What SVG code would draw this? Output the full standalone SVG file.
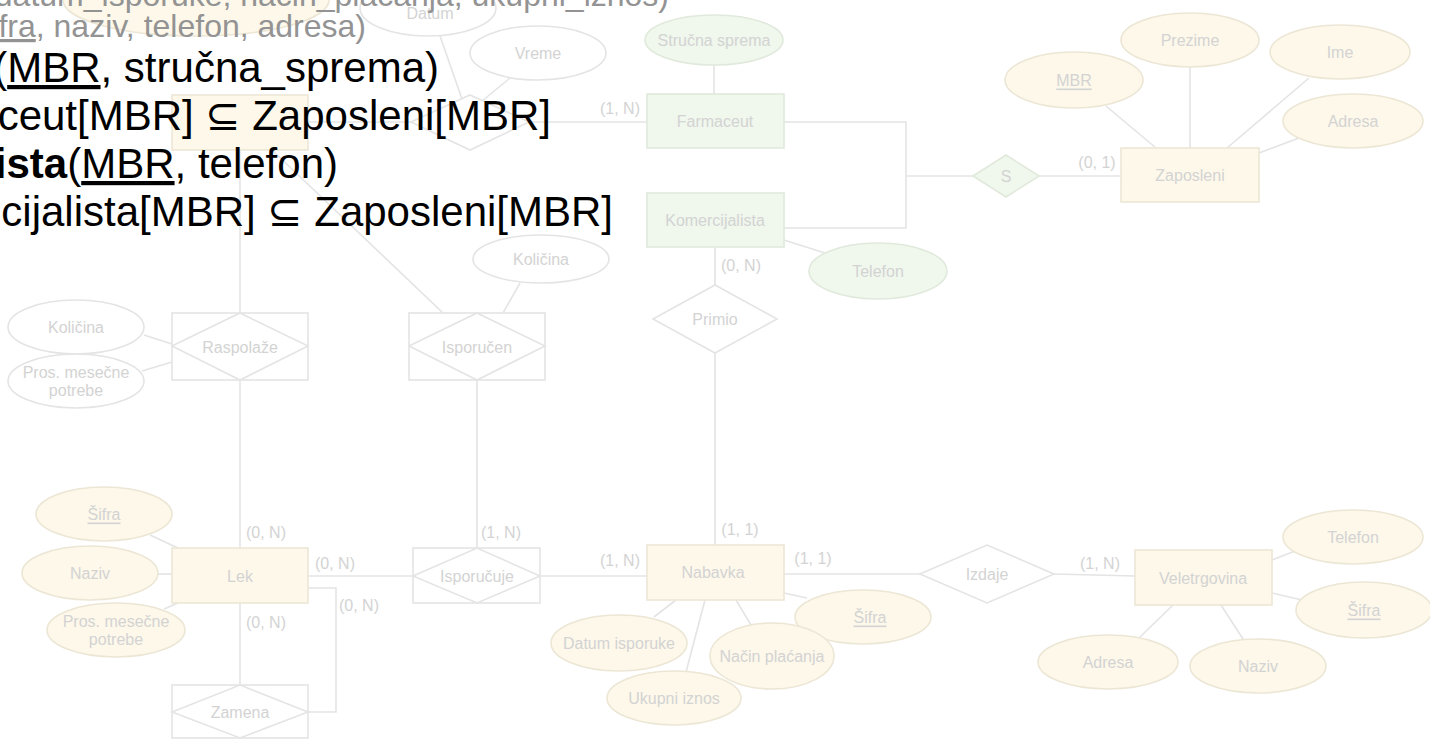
<svg xmlns="http://www.w3.org/2000/svg" width="1430" height="739" viewBox="0 0 1430 739">
<style>
.ln{fill:none;stroke:#e4e4e4;stroke-width:1.6}
.ey{fill:#fdf8ea;stroke:#ece6d5;stroke-width:1.6}
.eg{fill:#f0f7ed;stroke:#e0e9db;stroke-width:1.6}
.ew{fill:#ffffff;stroke:#e4e4e4;stroke-width:1.6}
.lb{font-family:"Liberation Sans",Arial,sans-serif;font-size:16px;fill:#d3d3d3;text-anchor:middle;dominant-baseline:central}
.u{text-decoration:underline}
.big{font-family:"Liberation Sans",Arial,"DejaVu Sans",sans-serif;font-size:42px;fill:#000000;text-anchor:end}
.gr{font-family:"Liberation Sans",Arial,"DejaVu Sans",sans-serif;font-size:32px;fill:#939393;text-anchor:end}
</style>
<rect x="0" y="0" width="1430" height="739" fill="#ffffff"/>

<g id="connectors">
<line class="ln" x1="440" y1="36" x2="462" y2="99"/>
<line class="ln" x1="510" y1="78" x2="482" y2="101"/>
<line class="ln" x1="308" y1="122" x2="411" y2="122"/>
<line class="ln" x1="529" y1="122" x2="647" y2="122"/>
<line class="ln" x1="714" y1="65" x2="714" y2="94"/>
<polyline class="ln" points="784,122 906,122 906,228 784,228"/>
<line class="ln" x1="906" y1="176" x2="973" y2="176"/>
<line class="ln" x1="1039" y1="176" x2="1121" y2="176"/>
<line class="ln" x1="1106" y1="106" x2="1156" y2="148"/>
<line class="ln" x1="1190" y1="67" x2="1190" y2="148"/>
<line class="ln" x1="1309" y1="78" x2="1227" y2="148"/>
<line class="ln" x1="1299" y1="138" x2="1259" y2="153"/>
<line class="ln" x1="784" y1="240" x2="828" y2="254"/>
<line class="ln" x1="715" y1="247" x2="715" y2="285"/>
<line class="ln" x1="715" y1="353" x2="715" y2="545"/>
<line class="ln" x1="240" y1="150" x2="240" y2="313"/>
<line class="ln" x1="240" y1="380" x2="240" y2="548"/>
<line class="ln" x1="272" y1="150" x2="443" y2="313"/>
<line class="ln" x1="520" y1="283" x2="503" y2="313"/>
<line class="ln" x1="144" y1="335" x2="172" y2="344"/>
<line class="ln" x1="142" y1="371" x2="172" y2="362"/>
<line class="ln" x1="477" y1="380" x2="477" y2="548"/>
<line class="ln" x1="308" y1="576" x2="413" y2="576"/>
<polyline class="ln" points="308,588 336,588 336,712 306,712"/>
<line class="ln" x1="240" y1="603" x2="240" y2="685"/>
<line class="ln" x1="150" y1="535" x2="178" y2="548"/>
<line class="ln" x1="158" y1="574" x2="172" y2="574"/>
<line class="ln" x1="164" y1="609" x2="178" y2="603"/>
<line class="ln" x1="540" y1="576" x2="647" y2="576"/>
<line class="ln" x1="784" y1="574" x2="920" y2="574"/>
<line class="ln" x1="1054" y1="574" x2="1135" y2="576"/>
<line class="ln" x1="676" y1="600" x2="654" y2="617"/>
<line class="ln" x1="705" y1="600" x2="686" y2="672"/>
<line class="ln" x1="736" y1="600" x2="751" y2="625"/>
<line class="ln" x1="784" y1="593" x2="807" y2="598"/>
<line class="ln" x1="1272" y1="560" x2="1295" y2="551"/>
<line class="ln" x1="1272" y1="593" x2="1302" y2="600"/>
<line class="ln" x1="1173" y1="605" x2="1140" y2="637"/>
<line class="ln" x1="1221" y1="605" x2="1243" y2="639"/>
<g class="lb">
<text x="620" y="108">(1, N)</text>
<text x="1097" y="162">(0, 1)</text>
<text x="741" y="265">(0, N)</text>
<text x="740" y="529">(1, 1)</text>
<text x="620" y="560">(1, N)</text>
<text x="813" y="558">(1, 1)</text>
<text x="1100" y="563">(1, N)</text>
<text x="266" y="532">(0, N)</text>
<text x="335" y="563">(0, N)</text>
<text x="501" y="532">(1, N)</text>
<text x="359" y="605">(0, N)</text>
<text x="266" y="622">(0, N)</text>
</g>
</g>

<g id="attr-top-left"><ellipse class="ey" cx="196" cy="0" rx="133" ry="36"/></g>
<g id="attr-datum"><ellipse class="ew" cx="428" cy="8" rx="68" ry="28"/><text class="lb" x="430" y="13">Datum</text></g>
<g id="attr-vreme"><ellipse class="ew" cx="538" cy="53" rx="68" ry="27"/><text class="lb" x="538" y="53">Vreme</text></g>
<g id="rel-top"><polygon class="ew" points="411,122 470,95 529,122 470,150"/></g>
<g id="ent-top"><rect class="ey" x="172" y="95" width="136" height="55"/></g>

<g id="attr-strucna"><ellipse class="eg" cx="714" cy="40" rx="69" ry="25"/><text class="lb" x="714" y="40">Stručna sprema</text></g>
<g id="ent-farmaceut"><rect class="eg" x="647" y="94" width="137" height="54"/><text class="lb" x="715" y="121">Farmaceut</text></g>
<g id="ent-komercijalista"><rect class="eg" x="647" y="193" width="137" height="54"/><text class="lb" x="715" y="220">Komercijalista</text></g>
<g id="rel-s"><polygon class="eg" points="973,176 1006,155 1039,176 1006,197"/><text class="lb" x="1006" y="176">S</text></g>
<g id="ent-zaposleni"><rect class="ey" x="1121" y="148" width="138" height="54"/><text class="lb" x="1190" y="175">Zaposleni</text></g>
<g id="attr-mbr"><ellipse class="ey" cx="1074" cy="80" rx="69" ry="28"/><text class="lb u" x="1074" y="80">MBR</text></g>
<g id="attr-prezime"><ellipse class="ey" cx="1190" cy="40" rx="69" ry="27"/><text class="lb" x="1190" y="40">Prezime</text></g>
<g id="attr-ime"><ellipse class="ey" cx="1340" cy="52" rx="70" ry="27"/><text class="lb" x="1340" y="52">Ime</text></g>
<g id="attr-adresa-z"><ellipse class="ey" cx="1353" cy="121" rx="70" ry="27"/><text class="lb" x="1353" y="121">Adresa</text></g>
<g id="attr-telefon-k"><ellipse class="eg" cx="878" cy="271" rx="69" ry="28"/><text class="lb" x="878" y="271">Telefon</text></g>
<g id="rel-primio"><polygon class="ew" points="653,319 715,285 777,319 715,353"/><text class="lb" x="715" y="319">Primio</text></g>

<g id="attr-kolicina-i"><ellipse class="ew" cx="541" cy="259" rx="68" ry="24"/><text class="lb" x="541" y="259">Količina</text></g>
<g id="rel-raspolaze"><rect class="ew" x="172" y="313" width="136" height="67"/><polygon class="ew" points="172,346 240,313 308,346 240,380"/><text class="lb" x="240" y="347">Raspolaže</text></g>
<g id="rel-isporucen"><rect class="ew" x="409" y="313" width="136" height="67"/><polygon class="ew" points="409,346 477,313 545,346 477,380"/><text class="lb" x="477" y="347">Isporučen</text></g>
<g id="attr-kolicina-r"><ellipse class="ew" cx="76" cy="327" rx="68" ry="27"/><text class="lb" x="76" y="327">Količina</text></g>
<g id="attr-pros-r"><ellipse class="ew" cx="76" cy="381" rx="68" ry="27"/><text class="lb" x="76" y="372">Pros. mesečne</text><text class="lb" x="76" y="390">potrebe</text></g>

<g id="ent-lek"><rect class="ey" x="172" y="548" width="136" height="55"/><text class="lb" x="240" y="576">Lek</text></g>
<g id="attr-sifra-l"><ellipse class="ey" cx="104" cy="514" rx="68" ry="27"/><text class="lb u" x="104" y="514">Šifra</text></g>
<g id="attr-naziv-l"><ellipse class="ey" cx="90" cy="573" rx="68" ry="27"/><text class="lb" x="90" y="573">Naziv</text></g>
<g id="attr-pros-l"><ellipse class="ey" cx="116" cy="630" rx="69" ry="27"/><text class="lb" x="116" y="621">Pros. mesečne</text><text class="lb" x="116" y="639">potrebe</text></g>
<g id="rel-isporucuje"><rect class="ew" x="413" y="548" width="127" height="55"/><polygon class="ew" points="413,576 477,548 540,576 477,603"/><text class="lb" x="477" y="576">Isporučuje</text></g>
<g id="rel-zamena"><rect class="ew" x="172" y="685" width="136" height="53"/><polygon class="ew" points="172,712 240,685 308,712 240,738"/><text class="lb" x="240" y="712">Zamena</text></g>

<g id="ent-nabavka"><rect class="ey" x="647" y="545" width="137" height="55"/><text class="lb" x="713" y="572">Nabavka</text></g>
<g id="attr-datum-isp"><ellipse class="ey" cx="619" cy="643" rx="68" ry="28"/><text class="lb" x="619" y="643">Datum isporuke</text></g>
<g id="attr-ukupni"><ellipse class="ey" cx="674" cy="698" rx="67" ry="27"/><text class="lb" x="674" y="698">Ukupni iznos</text></g>
<g id="attr-sifra-n"><ellipse class="ey" cx="863" cy="617" rx="68" ry="27"/><text class="lb u" x="870" y="617">Šifra</text></g>
<g id="attr-nacin"><ellipse class="ey" cx="772" cy="656" rx="62" ry="33"/><text class="lb" x="772" y="656">Način plaćanja</text></g>
<g id="rel-izdaje"><polygon class="ew" points="920,574 987,545 1054,574 987,603"/><text class="lb" x="987" y="574">Izdaje</text></g>
<g id="ent-veletrgovina"><rect class="ey" x="1135" y="550" width="137" height="55"/><text class="lb" x="1203" y="578">Veletrgovina</text></g>
<g id="attr-telefon-v"><ellipse class="ey" cx="1353" cy="537" rx="70" ry="27"/><text class="lb" x="1353" y="537">Telefon</text></g>
<g id="attr-sifra-v"><ellipse class="ey" cx="1364" cy="610" rx="68" ry="28"/><text class="lb u" x="1364" y="610">Šifra</text></g>
<g id="attr-adresa-v"><ellipse class="ey" cx="1108" cy="662" rx="70" ry="27"/><text class="lb" x="1108" y="662">Adresa</text></g>
<g id="attr-naziv-v"><ellipse class="ey" cx="1258" cy="666" rx="68" ry="27"/><text class="lb" x="1258" y="666">Naziv</text></g>

<g id="schema-text">
<text class="gr" x="669" y="6">datum_isporuke, način_plaćanja, ukupni_iznos)</text>
<text class="gr" x="366" y="37"><tspan class="u">fra</tspan>, naziv, telefon, adresa)</text>
<text class="big" x="439" y="82">(<tspan class="u">MBR</tspan>, stručna_sprema)</text>
<text class="big" x="551" y="130">ceut[MBR] ⊆ Zaposleni[MBR]</text>
<text class="big" x="338" y="178"><tspan font-weight="bold">ista</tspan>(<tspan class="u">MBR</tspan>, telefon)</text>
<text class="big" x="613" y="226">cijalista[MBR] ⊆ Zaposleni[MBR]</text>
</g>
</svg>
